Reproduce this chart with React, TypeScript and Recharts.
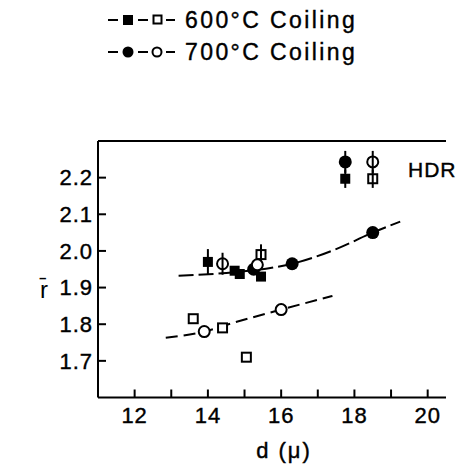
import {
  ComposedChart,
  Scatter,
  XAxis,
  YAxis,
  ErrorBar,
  ReferenceLine,
} from "recharts";

// axis ticks
const xTicks = [12, 13, 14, 15, 16, 17, 18, 19, 20];
const yTicks = [1.7, 1.8, 1.9, 2.0, 2.1, 2.2];
const xDomain = [11, 20.5];
const yDomain = [1.6, 2.3];

// 600°C coiling (filled / open squares)
const coil600Filled = [
  { x: 14.0, y: 1.97, err: 0.035 },
  { x: 14.73, y: 1.946 },
  { x: 14.87, y: 1.937 },
  { x: 15.45, y: 1.93 },
  { x: 17.75, y: 2.197, err: 0.025 },
];
const coil600Open = [
  { x: 13.6, y: 1.815 },
  { x: 14.4, y: 1.79 },
  { x: 15.05, y: 1.71 },
  { x: 15.45, y: 1.99, err: 0.028 },
  { x: 18.5, y: 2.197, err: 0.025 },
];

// 700°C coiling (filled / open circles)
const coil700Filled = [
  { x: 15.25, y: 1.95 },
  { x: 16.3, y: 1.965 },
  { x: 18.5, y: 2.05 },
  { x: 17.75, y: 2.243, err: 0.03 },
];
const coil700Open = [
  { x: 13.9, y: 1.78 },
  { x: 16.0, y: 1.84 },
  { x: 14.4, y: 1.965, err: 0.03 },
  { x: 15.35, y: 1.962 },
  { x: 18.5, y: 2.243, err: 0.03 },
];

// hand-drawn trend curves
const upperCurve = [
  { x: 13.2, y: 1.932 },
  { x: 14.5, y: 1.94 },
  { x: 15.8, y: 1.955 },
  { x: 16.3, y: 1.965 },
  { x: 17.5, y: 2.005 },
  { x: 18.5, y: 2.05 },
  { x: 19.25, y: 2.08 },
];
const lowerCurve = [
  { x: 12.85, y: 1.763 },
  { x: 13.9, y: 1.78 },
  { x: 14.7, y: 1.804 },
  { x: 16.0, y: 1.84 },
  { x: 17.4, y: 1.877 },
];

const FONT = "'Liberation Sans', Arial, sans-serif";

const NoDot = () => <g />;
const NoTick = () => <g />;
const FilledSquare = (p: any) => (
  <rect x={p.cx - 5} y={p.cy - 5} width={10} height={10} fill="#000" />
);
const OpenSquare = (p: any) => (
  <rect
    x={p.cx - 4.5}
    y={p.cy - 4.5}
    width={9}
    height={9}
    fill={p.payload && p.payload.err ? "none" : "#fff"}
    stroke="#000"
    strokeWidth={2}
  />
);
const FilledCircle = (p: any) => <circle cx={p.cx} cy={p.cy} r={6.5} fill="#000" />;
const OpenCircle = (p: any) => (
  <circle
    cx={p.cx}
    cy={p.cy}
    r={5.5}
    fill={p.payload && p.payload.err ? "none" : "#fff"}
    stroke="#000"
    strokeWidth={2}
  />
);

const tickStyle = {
  fontSize: 22,
  fill: "#000",
  stroke: "#000",
  strokeWidth: 0.4,
  fontFamily: FONT,
  letterSpacing: 1,
};

const textProps = {
  fontFamily: FONT,
  fill: "#000",
  stroke: "#000",
  strokeWidth: 0.4,
};

const layer = { position: "absolute" as const, left: 0, top: 0 };
const chartMargin = { top: 141, right: 29, bottom: 38.5, left: 58 };

export default function App() {
  return (
    <div style={{ position: "absolute", left: 0, top: 0, width: 475, height: 466, background: "#fff" }}>
      {/* data + tick labels */}
      <div style={layer}>
        <ComposedChart width={475} height={466} margin={chartMargin}>
          <XAxis
            type="number"
            dataKey="x"
            domain={xDomain}
            ticks={xTicks}
            tickFormatter={(v: number) => (v % 2 === 0 ? String(v) : "")}
            allowDataOverflow
            height={30}
            axisLine={false}
            tickLine={{ stroke: "none" }}
            tickSize={-8}
            tickMargin={17.5}
            tick={tickStyle}
          />
          <YAxis
            type="number"
            dataKey="y"
            domain={yDomain}
            ticks={yTicks}
            tickFormatter={(v: number) => v.toFixed(1)}
            allowDataOverflow
            width={40}
            axisLine={false}
            tickLine={{ stroke: "none" }}
            tickSize={-8}
            tickMargin={13}
            tick={tickStyle}
          />
          <Scatter
            data={upperCurve}
            shape={NoDot}
            line={{ stroke: "#000", strokeWidth: 2, strokeDasharray: "15 5" }}
            lineJointType="monotoneX"
            isAnimationActive={false}
          />
          <Scatter
            data={lowerCurve}
            shape={NoDot}
            line={{ stroke: "#000", strokeWidth: 2, strokeDasharray: "12 6" }}
            lineJointType="monotoneX"
            isAnimationActive={false}
          />
          <Scatter data={coil600Filled} shape={FilledSquare} isAnimationActive={false}>
            <ErrorBar dataKey="err" direction="y" width={0} stroke="#000" strokeWidth={2} />
          </Scatter>
          <Scatter data={coil600Open} shape={OpenSquare} isAnimationActive={false}>
            <ErrorBar dataKey="err" direction="y" width={0} stroke="#000" strokeWidth={2} />
          </Scatter>
          <Scatter data={coil700Filled} shape={FilledCircle} isAnimationActive={false}>
            <ErrorBar dataKey="err" direction="y" width={0} stroke="#000" strokeWidth={2} />
          </Scatter>
          <Scatter data={coil700Open} shape={OpenCircle} isAnimationActive={false}>
            <ErrorBar dataKey="err" direction="y" width={0} stroke="#000" strokeWidth={2} />
          </Scatter>

          {/* legend */}
          <g>
            <line x1={108} x2={118} y1={20} y2={20} stroke="#000" strokeWidth={2} />
            <rect x={123} y={15} width={10} height={10} fill="#000" />
            <line x1={138} x2={148} y1={20} y2={20} stroke="#000" strokeWidth={2} />
            <rect x={153.5} y={15.5} width={8} height={8} fill="none" stroke="#000" strokeWidth={2} />
            <line x1={166} x2={175} y1={20} y2={20} stroke="#000" strokeWidth={2} />
            <text x={185} y={28} fontSize={23} letterSpacing={2.4} {...textProps}>
              600°C Coiling
            </text>
            <line x1={108} x2={118} y1={52} y2={52} stroke="#000" strokeWidth={2} />
            <circle cx={128} cy={52} r={5.5} fill="#000" />
            <line x1={138} x2={148} y1={52} y2={52} stroke="#000" strokeWidth={2} />
            <circle cx={157} cy={52} r={4.5} fill="none" stroke="#000" strokeWidth={2} />
            <line x1={166} x2={175} y1={52} y2={52} stroke="#000" strokeWidth={2} />
            <text x={185} y={60} fontSize={23} letterSpacing={2.4} {...textProps}>
              700°C Coiling
            </text>
          </g>
          <text x={408} y={177} fontSize={21} letterSpacing={1} {...textProps}>
            HDR
          </text>
          <text x={284} y={458} fontSize={22} letterSpacing={2} textAnchor="middle" {...textProps}>
            d (μ)
          </text>
          <text x={44} y={298} fontSize={24} textAnchor="middle" fontFamily={FONT} fill="#000">
            r̄
          </text>
        </ComposedChart>
      </div>

      {/* frame: axis lines, top border */}
      <div style={{ ...layer, pointerEvents: "none" }}>
        <ComposedChart width={475} height={466} margin={chartMargin}>
          <XAxis
            type="number"
            dataKey="x"
            domain={xDomain}
            ticks={xTicks}
            allowDataOverflow
            height={30}
            axisLine={{ stroke: "#000", strokeWidth: 2 }}
            tickLine={{ stroke: "#000", strokeWidth: 2 }}
            tickSize={-8}
            tick={false}
          />
          <YAxis
            type="number"
            dataKey="y"
            domain={yDomain}
            ticks={yTicks}
            allowDataOverflow
            width={40}
            axisLine={{ stroke: "#000", strokeWidth: 2 }}
            tickLine={{ stroke: "#000", strokeWidth: 2 }}
            tickSize={-8}
            tick={false}
          />
          <ReferenceLine y={2.3} stroke="#000" strokeWidth={2} ifOverflow="visible" />
          <Scatter data={coil600Filled} fill="none" isAnimationActive={false}>
            <ErrorBar dataKey="err" direction="y" width={0} stroke="none" />
          </Scatter>
        </ComposedChart>
      </div>

      {/* inward tick marks */}
      <div style={{ ...layer, pointerEvents: "none" }}>
        <ComposedChart width={475} height={466} margin={chartMargin}>
          <XAxis
            type="number"
            dataKey="x"
            domain={xDomain}
            ticks={xTicks}
            allowDataOverflow
            height={30}
            axisLine={false}
            tickLine={{ stroke: "#000", strokeWidth: 2 }}
            tickSize={-8}
            tick={NoTick}
          />
          <YAxis
            type="number"
            dataKey="y"
            domain={yDomain}
            ticks={yTicks}
            allowDataOverflow
            width={40}
            axisLine={false}
            tickLine={{ stroke: "#000", strokeWidth: 2 }}
            tickSize={-8}
            tick={NoTick}
          />
          <Scatter data={coil600Filled} fill="none" isAnimationActive={false}>
            <ErrorBar dataKey="err" direction="y" width={0} stroke="none" />
          </Scatter>
        </ComposedChart>
      </div>
    </div>
  );
}
